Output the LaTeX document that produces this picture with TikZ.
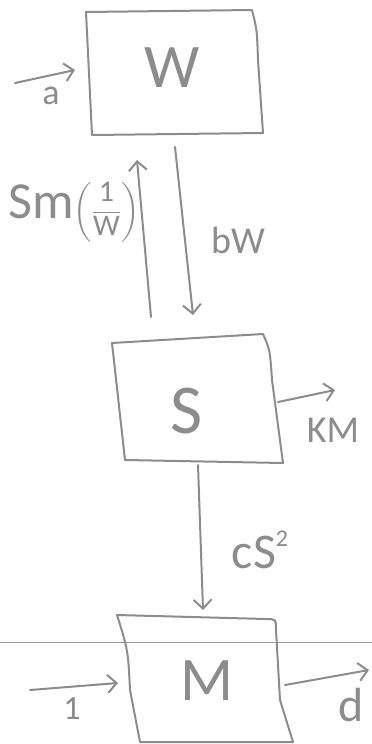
\documentclass[tikz,border=0pt]{standalone}
\usepackage{amsmath}
\usepackage{fontspec}
\setmainfont{Carlito}
\usetikzlibrary{arrows.meta}
\definecolor{pencil}{HTML}{8C8C8C}
\definecolor{rule}{HTML}{9A9A9A}
\begin{document}
\begin{tikzpicture}[x=1pt,y=-1pt,
  stroke/.style={draw=pencil, line width=2pt, line cap=round, line join=round},
  flow/.style={stroke, -{Straight Barb[length=9pt,width=18pt]}},
  lbl/.style={text=pencil, inner sep=0pt},
  big/.style={lbl, font=\fontsize{62}{62}\selectfont},
]
\useasboundingbox (0,0) rectangle (372,744);

% thin ruled line across the page
\draw[rule, line width=1pt] (0,642) -- (372,642);

% box W
\draw[stroke] (86,12) -- (252,10) .. controls (257,30) .. (258,60) -- (263,133) -- (92,135) -- cycle;
% box S
\draw[stroke] (112,343) -- (263,334) .. controls (270,350) .. (272,380) -- (283,463) -- (125,460) -- cycle;
% box M
\draw[stroke] (117,615) -- (266,619) .. controls (276,619) .. (276,630) -- (280,700) -- (293,742);
\draw[stroke] (117,615) .. controls (128,650) .. (130,690) -- (140,742) -- (293,742);

% box labels
\node[big] (W) at (172,68) {W};
\node[lbl, font=\fontsize{70}{70}\selectfont] (S) at (187,411) {S};
\node[big] (M) at (207,681) {M};

% connector end points on the box edges
\coordinate (aSrc) at (15,83);
\coordinate (Wl)   at (75,70);
\coordinate (Wb1)  at (137,160);
\coordinate (Wb2)  at (175,147);
\coordinate (St1)  at (151,317);
\coordinate (St2)  at (193,315);
\coordinate (Sr)   at (278,402);
\coordinate (kmOut) at (335,390);
\coordinate (Sb)   at (198,465);
\coordinate (Mt)   at (203,610);
\coordinate (oneSrc) at (30,690);
\coordinate (Ml)   at (118,683);
\coordinate (Mr)   at (285,685);
\coordinate (dOut) at (369,670);

% flows
\draw[flow] (aSrc) -- (Wl);
\draw[flow] (St1) -- (Wb1);
\draw[flow] (Wb2) -- (St2);
\draw[flow] (Sr) -- (kmOut);
\draw[flow] (Sb) -- (Mt);
\draw[flow] (oneSrc) -- (Ml);
\draw[flow] (Mr) -- (dOut);

% flow labels
\node[lbl, font=\fontsize{36}{36}\selectfont] (la) at (51,96) {a};
\node[lbl, anchor=west] (lsm) at (8,212)
  {{\fontsize{52}{52}\selectfont Sm}{\fontsize{30}{30}\selectfont$\left(\dfrac{\text{1}}{\text{W}}\right)$}};
\node[lbl, font=\fontsize{38}{38}\selectfont] (lbw) at (238,240) {bW};
\node[lbl, font=\fontsize{38}{38}\selectfont] (lkm) at (333,430) {KM};
\node[lbl, font=\fontsize{50}{50}\selectfont] (lcs) at (260,550)
  {cS\raisebox{0.45em}{\fontsize{24}{24}\selectfont 2}};
\node[lbl, font=\fontsize{34}{34}\selectfont] (l1) at (72,709) {1};
\node[lbl, font=\fontsize{48}{48}\selectfont] (ld) at (351,705) {d};
\end{tikzpicture}
\end{document}
